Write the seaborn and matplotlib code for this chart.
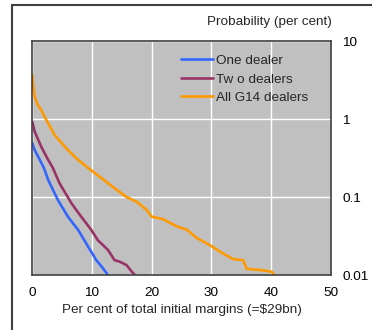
import matplotlib
matplotlib.use("Agg")
import matplotlib.pyplot as plt
from matplotlib.lines import Line2D
import seaborn as sns
import pandas as pd

# ---- data ----
one_x = [0.05, 0.45, 1.3, 2.0, 2.7, 4.35, 6.0, 7.7, 9.4, 10.75, 11.65, 12.5, 12.6]
one_p = [0.49, 0.40, 0.30, 0.235, 0.166, 0.091, 0.056, 0.038, 0.023, 0.0155, 0.0128, 0.0105, 0.0100]

two_x = [0.05, 0.45, 1.55, 2.7, 3.5, 4.6, 6.6, 8.0, 9.9, 11.0, 12.7, 13.8, 14.7, 15.8, 16.7, 17.2]
two_p = [0.92, 0.69, 0.44, 0.30, 0.235, 0.15, 0.083, 0.059, 0.038, 0.028, 0.021, 0.0155, 0.0148, 0.0134, 0.011, 0.0100]

all_x = [0.05, 0.25, 0.45, 0.9, 1.55, 2.4, 3.8, 6.0, 7.7, 9.4, 11.4, 13.5, 15.8, 17.5, 19.2, 20.0, 21.9,
         24.2, 25.9, 27.5, 29.8, 31.4, 33.6, 35.3, 35.9, 38.6, 40.1, 40.6]
all_p = [3.66, 2.5, 1.93, 1.55, 1.30, 0.97, 0.62, 0.40, 0.30, 0.235, 0.18, 0.135, 0.10, 0.087, 0.068, 0.056, 0.052,
         0.042, 0.038, 0.030, 0.024, 0.020, 0.016, 0.0155, 0.012, 0.0115, 0.011, 0.0098]

series_names = ["One dealer", "Tw o dealers", "All G14 dealers"]
series_colors = ["#3366FF", "#993366", "#FF9900"]
x_ticks = [0, 10, 20, 30, 40, 50]
y_ticks = [0.01, 0.1, 1, 10]
y_tick_labels = ["0.01", "0.1", "1", "10"]
y_title = "Probability (per cent)"
x_title = "Per cent of total initial margins (=$29bn)"

rows = []
for name, xs, ps in zip(series_names, [one_x, two_x, all_x], [one_p, two_p, all_p]):
    for i, (x, p) in enumerate(zip(xs, ps)):
        rows.append({"series": name, "x": x, "p": p, "order": i})
df = pd.DataFrame(rows)

sns.set_style("white")
plt.rcParams["font.family"] = ["Liberation Sans", "DejaVu Sans"]
FS = 9.7

fig = plt.figure(figsize=(3.72, 3.30), dpi=100)
ax = fig.add_axes([32/372, 1-275/330, (331-32)/372, (275-41)/330])
ax.set_facecolor("#C0C0C0")

sns.lineplot(data=df, x="x", y="p", hue="series", hue_order=series_names,
             palette=dict(zip(series_names, series_colors)), estimator=None,
             sort=False, units="series", linewidth=1.9, ax=ax, legend=False)

ax.set_yscale("log")
ax.set_xlim(0, 50)
ax.set_ylim(0.01, 10)
ax.set_xticks(x_ticks)
ax.set_xticklabels([str(t) for t in x_ticks])
ax.set_yticks(y_ticks)
ax.set_yticklabels(y_tick_labels)
ax.yaxis.set_minor_locator(matplotlib.ticker.NullLocator())
ax.yaxis.tick_right()
ax.tick_params(axis="y", length=0, pad=8, labelsize=FS, colors="black")
ax.tick_params(axis="x", length=0, pad=9, labelsize=FS, colors="black")
ax.grid(True, color="white", linewidth=1.0)
ax.set_axisbelow(True)
for s in ax.spines.values():
    s.set_visible(True)
    s.set_color("#404040")
    s.set_linewidth(1.2)
ax.set_xlabel(x_title, fontsize=FS, labelpad=3)
ax.set_ylabel("")

handles = [Line2D([0], [0], color=c, linewidth=1.9) for c in series_colors]
ax.legend(handles, series_names, loc="upper left", bbox_to_anchor=(0.48, 0.965),
          frameon=False, handlelength=2.4, handletextpad=0.2, labelspacing=0.45,
          borderaxespad=0, fontsize=FS)

fig.text(332/372, 1-22/330, y_title, ha="right", va="center", fontsize=FS)

# outer frame (left and top edges visible in reference)
fig.add_artist(Line2D([12/372, 12/372], [0, 1-5/330], transform=fig.transFigure,
                      color="#404040", linewidth=1.5))
fig.add_artist(Line2D([12/372, 1], [1-5/330, 1-5/330], transform=fig.transFigure,
                      color="#404040", linewidth=1.5))

fig.savefig("out.png", dpi=100)
